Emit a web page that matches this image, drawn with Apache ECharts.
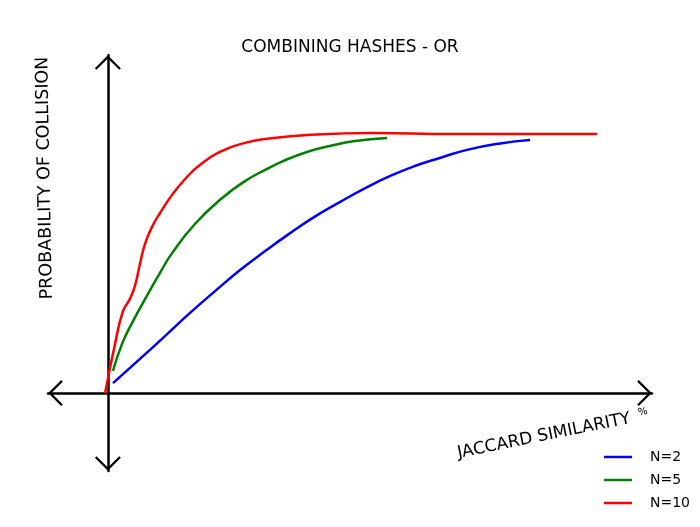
<!DOCTYPE html>
<html>
<head>
<meta charset="utf-8">
<script src="https://cdn.jsdelivr.net/npm/echarts@6/dist/echarts.min.js"></script>
<style>html,body{margin:0;padding:0;background:#fff;}#c{width:700px;height:527px;}</style>
</head>
<body>
<div id="c"></div>
<script>
const titleText = 'COMBINING HASHES - OR';
const xLabel = 'JACCARD SIMILARITY';
const xUnit = '%';
const yLabel = 'PROBABILITY OF COLLISION';
const seriesNames = ['N=2', 'N=5', 'N=10'];
const seriesColors = ['#0000ff', '#008000', '#ff0000'];

const n2x = [0.94, 5.9, 10.5, 15.1, 19.7, 24.3, 28.9, 33.5, 38.4, 42.7, 47.3, 51.9, 56.4, 61.0, 66.0, 72.1, 77.6];
const n2y = [0.038, 0.131, 0.219, 0.308, 0.392, 0.473, 0.546, 0.615, 0.683, 0.735, 0.788, 0.835, 0.873, 0.904, 0.935, 0.96, 0.973];

const n5x = [0.94, 2.59, 4.43, 7.37, 9.58, 11.8, 16.0, 20.9, 25.2, 28.9, 32.2, 36.6, 40.8, 45.4, 51.3];
const n5y = [0.085, 0.188, 0.269, 0.381, 0.462, 0.538, 0.65, 0.748, 0.815, 0.858, 0.892, 0.927, 0.95, 0.969, 0.981];

const n10x = [-0.5, 1.31, 2.78, 4.06, 4.98, 5.9, 6.82, 8.1, 9.58, 11.8, 14.2, 16.9, 21.0, 25.2, 28.9, 36.6, 48.8, 63.0, 76.4, 89.9];
const n10y = [0.0, 0.188, 0.315, 0.362, 0.412, 0.496, 0.573, 0.638, 0.692, 0.762, 0.823, 0.877, 0.931, 0.962, 0.977, 0.992, 1.0, 0.996, 0.996, 0.996];

const zip = (xs, ys) => xs.map((x, i) => [x, ys[i]]);
const seriesData = [zip(n2x, n2y), zip(n5x, n5y), zip(n10x, n10y)];

const FONT = 'DejaVu Sans';
const arrow = 'path://M0,12 L12,0 L24,12 L22.5,13.5 L12,3 L1.5,13.5 Z';
const axisLineCommon = {
  show: true,
  onZero: true,
  symbol: [arrow, arrow],
  symbolSize: [26, 15],
  symbolOffset: [7.5, -7.5],
  lineStyle: { color: '#000', width: 2.5, cap: 'round' }
};
const legendIcon = 'path://M0,0 L28,0 L28,2.5 L0,2.5 Z';

const chart = echarts.init(document.getElementById('c'), null, { renderer: 'canvas' });
chart.setOption({
  backgroundColor: '#fff',
  animation: false,
  title: {
    text: titleText,
    left: 'center',
    top: 34,
    textStyle: { fontFamily: FONT, fontSize: 17, fontWeight: 'normal', color: '#000' }
  },
  grid: { left: 48, right: 48, top: 55, bottom: 56 },
  xAxis: {
    type: 'value', min: -11, max: 100,
    axisLine: axisLineCommon,
    axisTick: { show: false }, axisLabel: { show: false }, splitLine: { show: false }
  },
  yAxis: {
    type: 'value', min: -0.3, max: 1.3,
    axisLine: axisLineCommon,
    axisTick: { show: false }, axisLabel: { show: false }, splitLine: { show: false }
  },
  legend: {
    orient: 'vertical',
    left: 599,
    top: 445,
    itemWidth: 28,
    itemHeight: 14,
    itemGap: 9,
    icon: legendIcon,
    textStyle: { fontFamily: FONT, fontSize: 14, color: '#000', padding: [0, 0, 0, 13] },
    data: seriesNames
  },
  graphic: [
    {
      type: 'text', x: 45, y: 178, rotation: Math.PI / 2 + 0.02,
      style: { text: yLabel, fontFamily: FONT, fontSize: 17.5, fill: '#000', align: 'center', verticalAlign: 'middle' }
    },
    {
      type: 'text', x: 544, y: 436, rotation: 0.2,
      style: { text: xLabel, fontFamily: FONT, fontSize: 17, fill: '#000', align: 'center', verticalAlign: 'middle' }
    },
    {
      type: 'text', x: 643, y: 412, rotation: 0.2,
      style: { text: xUnit, fontFamily: FONT, fontSize: 10, fill: '#000', align: 'center', verticalAlign: 'middle' }
    }
  ],
  series: seriesNames.map((name, i) => ({
    name: name,
    type: 'line',
    data: seriesData[i],
    smooth: 0.5,
    symbol: 'none',
    showSymbol: false,
    lineStyle: { color: seriesColors[i], width: 2.5 },
    itemStyle: { color: seriesColors[i] },
    z: 3
  }))
});
</script>
</body>
</html>
